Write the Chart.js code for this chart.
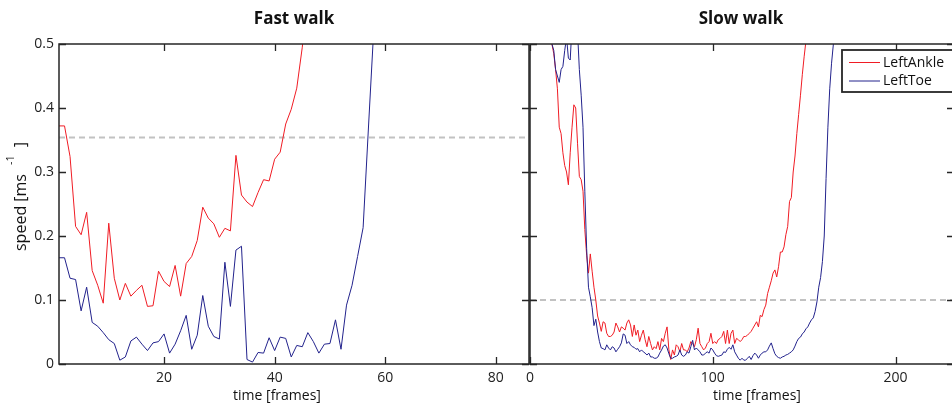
<!DOCTYPE html>
<html>
<head>
<meta charset="utf-8">
<script src="https://cdn.jsdelivr.net/npm/chart.js@4.4.1/dist/chart.umd.min.js"></script>
<style>
  html, body { margin: 0; padding: 0; background: #fff; }
  #wrap { position: relative; width: 952px; height: 406px; overflow: hidden; }
  canvas { position: absolute; top: 0; }
  #fast { left: 0; }
  #slow { left: 500px; }
</style>
</head>
<body>
<div id="wrap">
  <canvas id="fast" width="530" height="406"></canvas>
  <canvas id="slow" width="500" height="406"></canvas>
</div>
<script>
// speed values per frame (frame 1, 2, 3 ...)
const fastAnkle = [
  0.372, 0.372, 0.324, 0.215, 0.202, 0.237, 0.146, 0.123, 0.095, 0.220,
  0.134, 0.100, 0.126, 0.106, 0.115, 0.123, 0.090, 0.091, 0.145, 0.129,
  0.121, 0.154, 0.106, 0.157, 0.168, 0.193, 0.245, 0.228, 0.219, 0.198,
  0.212, 0.208, 0.326, 0.264, 0.253, 0.246, 0.268, 0.288, 0.286, 0.320,
  0.331, 0.375, 0.398, 0.431, 0.495, 0.580, 0.660, 0.740
];
const fastToe = [
  0.166, 0.166, 0.134, 0.132, 0.083, 0.120, 0.065, 0.059, 0.049, 0.038,
  0.032, 0.006, 0.011, 0.036, 0.042, 0.031, 0.021, 0.033, 0.035, 0.047,
  0.017, 0.031, 0.052, 0.076, 0.023, 0.045, 0.107, 0.059, 0.043, 0.039,
  0.159, 0.090, 0.178, 0.184, 0.007, 0.003, 0.018, 0.017, 0.041, 0.021,
  0.042, 0.040, 0.011, 0.029, 0.027, 0.049, 0.035, 0.017, 0.031, 0.032,
  0.069, 0.023, 0.092, 0.123, 0.168, 0.213, 0.375, 0.535, 0.700, 0.860
];
const slowAnkle = [
  0.950, 0.920, 0.880, 0.840, 0.800, 0.760, 0.720, 0.680, 0.630, 0.580,
  0.530, 0.500, 0.485, 0.460, 0.430, 0.370, 0.360, 0.330, 0.310, 0.300,
  0.280, 0.330, 0.370, 0.405, 0.400, 0.345, 0.293, 0.288, 0.270, 0.210,
  0.170, 0.142, 0.172, 0.145, 0.120, 0.100, 0.075, 0.064, 0.051, 0.066,
  0.064, 0.048, 0.043, 0.043, 0.045, 0.050, 0.064, 0.058, 0.050, 0.058,
  0.056, 0.053, 0.064, 0.069, 0.061, 0.043, 0.061, 0.045, 0.053, 0.035,
  0.045, 0.053, 0.038, 0.027, 0.043, 0.032, 0.022, 0.027, 0.024, 0.035,
  0.022, 0.040, 0.035, 0.048, 0.058, 0.022, 0.007, 0.022, 0.014, 0.030,
  0.027, 0.019, 0.032, 0.022, 0.022, 0.019, 0.025, 0.035, 0.032, 0.027,
  0.038, 0.056, 0.032, 0.027, 0.022, 0.025, 0.032, 0.035, 0.048, 0.032,
  0.035, 0.032, 0.038, 0.040, 0.043, 0.051, 0.032, 0.053, 0.032, 0.048,
  0.053, 0.032, 0.040, 0.038, 0.035, 0.038, 0.043, 0.043, 0.045, 0.048,
  0.051, 0.056, 0.061, 0.066, 0.058, 0.076, 0.074, 0.085, 0.092, 0.110,
  0.120, 0.130, 0.142, 0.147, 0.136, 0.152, 0.175, 0.175, 0.183, 0.202,
  0.215, 0.254, 0.260, 0.300, 0.325, 0.360, 0.390, 0.420, 0.452, 0.480,
  0.505, 0.540, 0.580, 0.620, 0.660
];
const slowToe = [
  0.900, 0.860, 0.820, 0.780, 0.740, 0.700, 0.660, 0.620, 0.580, 0.550,
  0.520, 0.500, 0.490, 0.460, 0.450, 0.440, 0.460, 0.465, 0.490, 0.510,
  0.478, 0.475, 0.530, 0.570, 0.570, 0.520, 0.460, 0.420, 0.370, 0.270,
  0.180, 0.120, 0.105, 0.088, 0.060, 0.070, 0.050, 0.035, 0.025, 0.024,
  0.022, 0.030, 0.025, 0.022, 0.027, 0.025, 0.019, 0.023, 0.027, 0.033,
  0.047, 0.045, 0.032, 0.035, 0.030, 0.027, 0.026, 0.023, 0.024, 0.019,
  0.022, 0.019, 0.017, 0.014, 0.017, 0.011, 0.011, 0.009, 0.009, 0.011,
  0.017, 0.022, 0.028, 0.030, 0.025, 0.016, 0.009, 0.009, 0.011, 0.012,
  0.014, 0.022, 0.014, 0.012, 0.014, 0.019, 0.017, 0.027, 0.037, 0.022,
  0.025, 0.022, 0.019, 0.014, 0.014, 0.017, 0.019, 0.017, 0.025, 0.022,
  0.017, 0.013, 0.012, 0.013, 0.014, 0.019, 0.018, 0.023, 0.026, 0.023,
  0.030, 0.019, 0.014, 0.009, 0.006, 0.009, 0.006, 0.006, 0.009, 0.012,
  0.007, 0.013, 0.017, 0.014, 0.009, 0.014, 0.017, 0.019, 0.019, 0.022,
  0.028, 0.033, 0.024, 0.016, 0.012, 0.010, 0.009, 0.011, 0.012, 0.014,
  0.015, 0.017, 0.019, 0.022, 0.028, 0.035, 0.040, 0.042, 0.047, 0.050,
  0.055, 0.058, 0.064, 0.069, 0.072, 0.082, 0.097, 0.120, 0.135, 0.160,
  0.200, 0.290, 0.370, 0.430, 0.470, 0.500, 0.550, 0.620, 0.700
];

const seriesNames = ["LeftAnkle", "LeftToe"];
const yTicks = [0, 0.1, 0.2, 0.3, 0.4, 0.5];
const fastXTicks = [20, 40, 60, 80];
const slowXTicks = [0, 100, 200];
const fastRange = [1, 86];
const slowRange = [0, 232];
const fastThreshold = 0.354;
const slowThreshold = 0.1;

const RED = "rgb(240,28,36)";
const BLUE = "rgb(34,34,140)";
const AXIS = "#262626";
const FONT = "'Open Sans', sans-serif";

const toPoints = (values) => values.map((y, i) => ({ x: i + 1, y }));

// box, inward ticks, titles, axis labels, legend
function framePlugin(cfg) {
  return {
    id: "frame",
    afterDraw(chart) {
      const { ctx, chartArea: a, scales } = chart;
      const x = scales.x, y = scales.y;
      ctx.save();
      ctx.strokeStyle = AXIS;
      ctx.lineWidth = 1.3;
      ctx.beginPath();
      const t = 7;
      cfg.xTicks.forEach((v) => {
        const px = Math.round(x.getPixelForValue(v)) + 0.5;
        ctx.moveTo(px, a.bottom); ctx.lineTo(px, a.bottom - t);
        ctx.moveTo(px, a.top); ctx.lineTo(px, a.top + t);
      });
      yTicks.forEach((v) => {
        const py = Math.round(y.getPixelForValue(v)) + 0.5;
        ctx.moveTo(a.left, py); ctx.lineTo(a.left + t, py);
        ctx.moveTo(a.right, py); ctx.lineTo(a.right - t, py);
      });
      ctx.stroke();
      ctx.lineWidth = 1.5;
      ctx.strokeRect(a.left, a.top, a.right - a.left, a.bottom - a.top);

      ctx.fillStyle = "#111";
      ctx.textAlign = "center";
      ctx.textBaseline = "middle";
      ctx.font = "bold 17px " + FONT;
      ctx.fillText(cfg.title, cfg.titleCenter, 19);
      ctx.font = "14px " + FONT;
      ctx.fillText("time [frames]", cfg.xLabelCenter, 396);

      if (cfg.yLabel) {
        ctx.save();
        ctx.translate(21, 251);
        ctx.rotate(-Math.PI / 2);
        ctx.textAlign = "left";
        ctx.textBaseline = "middle";
        ctx.font = "16px " + FONT;
        const main = "speed [ms";
        ctx.fillText(main, 0, 0);
        let w = ctx.measureText(main).width + 9;
        ctx.font = "11px " + FONT;
        ctx.fillText("-1", w, -10);
        w += ctx.measureText("-1").width + 8;
        ctx.font = "16px " + FONT;
        ctx.fillText("]", w, 0);
        ctx.restore();
      }

      if (cfg.legend) {
        const lx = a.right - 112, ly = 50;
        ctx.fillStyle = "#fff";
        ctx.fillRect(lx, ly, 150, 42);
        ctx.lineWidth = 1.8;
        ctx.strokeStyle = AXIS;
        ctx.strokeRect(lx, ly, 150, 42);
        const colors = [RED, BLUE];
        seriesNames.forEach((name, i) => {
          const yy = ly + 12.5 + i * 18.5;
          ctx.strokeStyle = colors[i];
          ctx.lineWidth = 1;
          ctx.beginPath();
          ctx.moveTo(lx + 7, yy); ctx.lineTo(lx + 38, yy);
          ctx.stroke();
          ctx.fillStyle = "#111";
          ctx.textAlign = "left";
          ctx.font = "14px " + FONT;
          ctx.fillText(name, lx + 41, yy + 0.5);
        });
      }
      ctx.restore();
    },
  };
}

function makePanel(canvas, cfg) {
  const dashed = {
    data: [{ x: cfg.range[0], y: cfg.threshold }, { x: cfg.range[1], y: cfg.threshold }],
    borderColor: "#c2c2c2",
    borderWidth: 2,
    borderDash: [6, 4],
    pointRadius: 0,
    order: 3,
  };
  return new Chart(canvas, {
    type: "line",
    data: {
      datasets: [
        dashed,
        { label: seriesNames[0], data: toPoints(cfg.ankle), borderColor: RED, borderWidth: 1, pointRadius: 0, order: 2 },
        { label: seriesNames[1], data: toPoints(cfg.toe), borderColor: BLUE, borderWidth: 1, pointRadius: 0, order: 1 },
      ],
    },
    options: {
      responsive: false,
      animation: false,
      layout: { padding: { top: 44, right: cfg.padRight, left: 0, bottom: 0 } },
      plugins: { legend: { display: false }, title: { display: false }, tooltip: { enabled: false } },
      elements: { line: { tension: 0 } },
      scales: {
        x: {
          type: "linear",
          min: cfg.range[0],
          max: cfg.range[1],
          grid: { display: false, drawTicks: false },
          border: { display: false },
          afterBuildTicks: (s) => { s.ticks = cfg.xTicks.map((v) => ({ value: v })); },
          afterFit: (s) => { s.height = 42; },
          ticks: { autoSkip: false, maxRotation: 0, padding: 6, color: "#222", font: { family: FONT, size: 14 } },
        },
        y: {
          min: 0,
          max: 0.5,
          grid: { display: false, drawTicks: false },
          border: { display: false },
          afterBuildTicks: (s) => { s.ticks = yTicks.map((v) => ({ value: v })); },
          afterFit: (s) => { s.width = cfg.yWidth; },
          ticks: {
            display: cfg.yLabel,
            padding: 5,
            color: "#222",
            font: { family: FONT, size: 14 },
            callback: (v) => String(v),
          },
        },
      },
    },
    plugins: [framePlugin(cfg)],
  });
}

makePanel(document.getElementById("fast"), {
  ankle: fastAnkle, toe: fastToe, range: fastRange, xTicks: fastXTicks,
  threshold: fastThreshold, title: "Fast walk", yLabel: true, legend: false,
  yWidth: 59, padRight: 1, titleCenter: 294, xLabelCenter: 277,
});
makePanel(document.getElementById("slow"), {
  ankle: slowAnkle, toe: slowToe, range: slowRange, xTicks: slowXTicks,
  threshold: slowThreshold, title: "Slow walk", yLabel: false, legend: true,
  yWidth: 30, padRight: 46, titleCenter: 241, xLabelCenter: 257,
});
</script>
</body>
</html>
